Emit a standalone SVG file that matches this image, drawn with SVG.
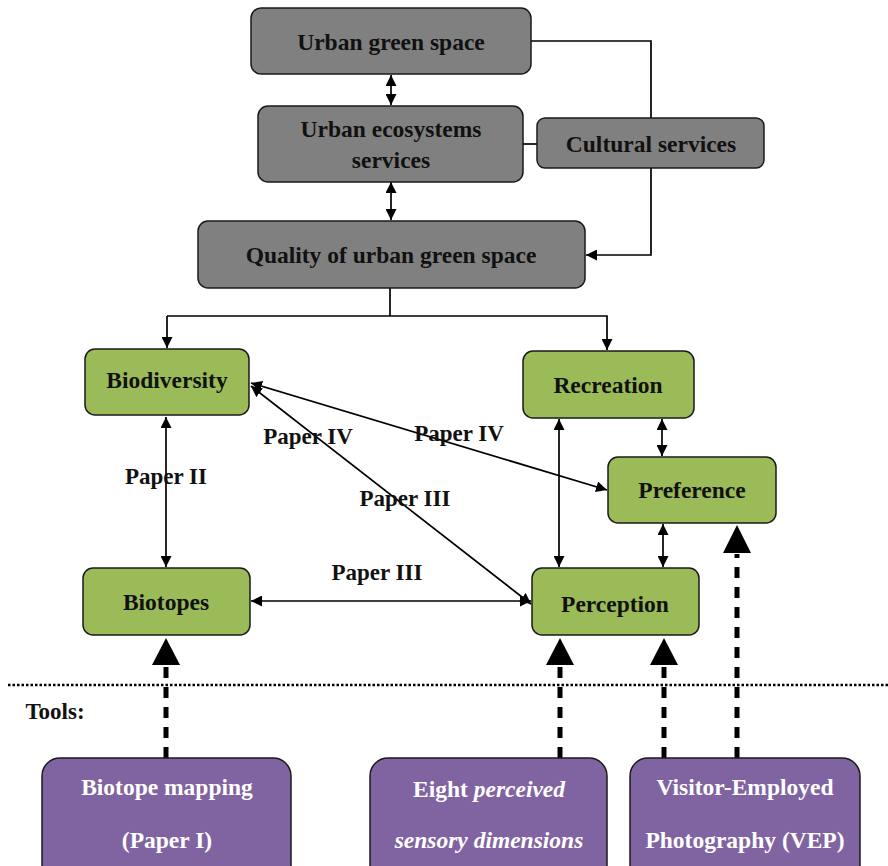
<svg xmlns="http://www.w3.org/2000/svg" width="888" height="866" viewBox="0 0 888 866">
<defs>
<style>
.gray{fill:#808080;stroke:#1a1a1a;stroke-width:1.5}
.green{fill:#9BBB59;stroke:#1a1a1a;stroke-width:1.5}
.purple{fill:#8064A2;stroke:#1a1a1a;stroke-width:1.5}
text{font-family:"Liberation Serif","Times New Roman",serif;font-weight:bold;font-size:23.5px;text-anchor:middle;fill:#111}
.w{fill:#fff}
.lab{font-size:23px}
.ln{fill:none;stroke:#000;stroke-width:1.7}
.dash{fill:none;stroke:#000;stroke-width:5;stroke-dasharray:11 9}
</style>
<marker id="ah" viewBox="0 0 10 10" refX="10" refY="5" markerWidth="11" markerHeight="11" markerUnits="userSpaceOnUse" orient="auto-start-reverse">
<path d="M0,0 L10,5 L0,10 z" fill="#000"/>
</marker>
</defs>

<g id="connectors">
<line class="ln" x1="391" y1="75" x2="391" y2="105" marker-start="url(#ah)" marker-end="url(#ah)"/>
<line class="ln" x1="391" y1="182" x2="391" y2="220" marker-start="url(#ah)" marker-end="url(#ah)"/>
<polyline class="ln" points="531,41 651,41 651,118"/>
<line class="ln" x1="523" y1="144" x2="537" y2="144"/>
<polyline class="ln" points="651,168 651,255 586,255" marker-end="url(#ah)"/>
<line class="ln" x1="390" y1="288" x2="390" y2="316"/>
<polyline class="ln" points="167,316 607,316 607,350" marker-end="url(#ah)"/>
<line class="ln" x1="167" y1="316" x2="167" y2="348" marker-end="url(#ah)"/>
<line class="ln" x1="166" y1="417" x2="166" y2="567" marker-start="url(#ah)" marker-end="url(#ah)"/>
<line class="ln" x1="251" y1="383" x2="607" y2="490" marker-start="url(#ah)" marker-end="url(#ah)"/>
<line class="ln" x1="251" y1="386" x2="531" y2="604" marker-start="url(#ah)" marker-end="url(#ah)"/>
<line class="ln" x1="251" y1="601" x2="531" y2="601" marker-start="url(#ah)" marker-end="url(#ah)"/>
<line class="ln" x1="559" y1="419" x2="559" y2="567" marker-start="url(#ah)" marker-end="url(#ah)"/>
<line class="ln" x1="662" y1="419" x2="662" y2="456" marker-start="url(#ah)" marker-end="url(#ah)"/>
<line class="ln" x1="663" y1="524" x2="663" y2="567" marker-start="url(#ah)" marker-end="url(#ah)"/>
<line x1="8" y1="685" x2="888" y2="685" stroke="#000" stroke-width="2.5" stroke-dasharray="2.5 2"/>
<line class="dash" x1="166" y1="758" x2="166" y2="666"/>
<polygon points="166,638 152,665 180,665" fill="#000"/>
<line class="dash" x1="560" y1="758" x2="560" y2="666"/>
<polygon points="560,638 546,665 574,665" fill="#000"/>
<line class="dash" x1="664" y1="758" x2="664" y2="666"/>
<polygon points="664,638 650,665 678,665" fill="#000"/>
<line class="dash" x1="737" y1="758" x2="737" y2="554"/>
<polygon points="737,525 723,553 751,553" fill="#000"/>
</g>

<g id="urban-green-space"><rect class="gray" x="251" y="8" width="280" height="66" rx="10"/><text x="391" y="50">Urban green space</text></g>
<g id="urban-ecosystems-services"><rect class="gray" x="258" y="106" width="265" height="76" rx="10"/><text x="391" y="137">Urban ecosystems</text><text x="391" y="168">services</text></g>
<g id="cultural-services"><rect class="gray" x="537" y="118" width="227" height="50" rx="8"/><text x="651" y="152">Cultural services</text></g>
<g id="quality"><rect class="gray" x="198" y="221" width="387" height="67" rx="10"/><text x="391" y="263">Quality of urban green space</text></g>

<g id="biodiversity"><rect class="green" x="85" y="349" width="164" height="66" rx="10"/><text x="167" y="388">Biodiversity</text></g>
<g id="recreation"><rect class="green" x="523" y="351" width="171" height="67" rx="10"/><text x="608" y="393">Recreation</text></g>
<g id="preference"><rect class="green" x="608" y="457" width="168" height="66" rx="10"/><text x="692" y="498">Preference</text></g>
<g id="biotopes"><rect class="green" x="83" y="568" width="167" height="67" rx="10"/><text x="166" y="610">Biotopes</text></g>
<g id="perception"><rect class="green" x="532" y="568" width="167" height="67" rx="10"/><text x="615" y="612">Perception</text></g>

<g id="labels">
<text class="lab" x="166" y="484">Paper II</text>
<text class="lab" x="308" y="444">Paper IV</text>
<text class="lab" x="459" y="441">Paper IV</text>
<text class="lab" x="405" y="506">Paper III</text>
<text class="lab" x="377" y="580">Paper III</text>
<text class="lab" x="55" y="719">Tools:</text>
</g>

<g id="biotope-mapping"><rect class="purple" x="42" y="758" width="249" height="125" rx="18"/><text class="w" x="167" y="795">Biotope mapping</text><text class="w" x="167" y="848">(Paper I)</text></g>
<g id="sensory-dimensions"><rect class="purple" x="370" y="758" width="237" height="125" rx="18"/><text class="w" x="489" y="797">Eight <tspan font-style="italic">perceived</tspan></text><text class="w" x="489" y="848" font-style="italic">sensory dimensions</text></g>
<g id="vep"><rect class="purple" x="630" y="758" width="230" height="125" rx="18"/><text class="w" x="745" y="795">Visitor-Employed</text><text class="w" x="745" y="848">Photography (VEP)</text></g>
</svg>
